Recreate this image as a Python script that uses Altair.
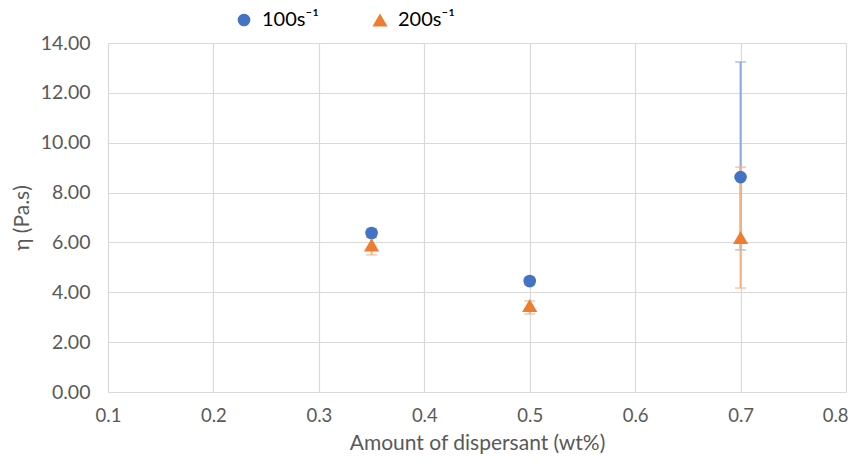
import altair as alt
import pandas as pd

# data
x_vals = [0.35, 0.5, 0.7]
series = ["100s\u207b\u00b9", "200s\u207b\u00b9"]
eta_100 = [6.38, 4.45, 8.62]
lo_100 = [6.2, 4.3, 5.70]
hi_100 = [6.55, 4.6, 13.24]
eta_200 = [5.9, 3.47, 6.2]
lo_200 = [5.5, 3.13, 4.17]
hi_200 = [6.25, 3.65, 9.02]

x_ticks = [0.1, 0.2, 0.3, 0.4, 0.5, 0.6, 0.7, 0.8]
y_ticks = [0, 2, 4, 6, 8, 10, 12, 14]

rows = []
for s, eta, lo, hi in [(series[0], eta_100, lo_100, hi_100), (series[1], eta_200, lo_200, hi_200)]:
    for x, e, l, h in zip(x_vals, eta, lo, hi):
        rows.append({"x": x, "series": s, "eta": e, "lo": l, "hi": h})
df = pd.DataFrame(rows)

FONT = "Lato"
TXT = "#595959"
main_colors = ["#4472C4", "#ED7D31"]
light_colors = ["#8FAADC", "#F4B183"]

xs = alt.Scale(domain=[0.1, 0.8], nice=False, zero=False)
ys = alt.Scale(domain=[0, 14], nice=False)

base = alt.Chart(df)

x_enc = alt.X("x:Q", scale=xs,
              axis=alt.Axis(values=x_ticks, format=".1f", title="Amount of dispersant (wt%)",
                            grid=True, domain=False, ticks=False, labelPadding=14,
                            labelFlush=False, labelBound=False, titlePadding=8,
                            labelFontSize=18.5, titleFontSize=21,
                            labelAlign={"condition": {"test": "datum.value >= 0.79", "value": "right"},
                                        "value": "center"},
                            labelOffset={"condition": {"test": "datum.value >= 0.79", "value": 2},
                                         "value": 0}))
y_enc = alt.Y("eta:Q", scale=ys,
              axis=alt.Axis(values=y_ticks, format=".2f", title="\u03b7 (Pa.s)",
                            grid=True, domain=False, ticks=False, labelPadding=18,
                            labelFlush=False, titlePadding=8, titleFontSize=21))

error_layers = []
for s, col in zip(series, light_colors):
    b = base.transform_filter(alt.datum.series == s)
    error_layers.append(b.mark_rule(strokeWidth=2, color=col).encode(
        x=alt.X("x:Q", scale=xs), y=alt.Y("lo:Q", scale=ys), y2="hi:Q"))
    error_layers.append(b.mark_tick(orient="horizontal", size=11, thickness=1.5, color=col).encode(
        x=alt.X("x:Q", scale=xs), y=alt.Y("hi:Q", scale=ys)))
    error_layers.append(b.mark_tick(orient="horizontal", size=11, thickness=1.5, color=col).encode(
        x=alt.X("x:Q", scale=xs), y=alt.Y("lo:Q", scale=ys)))

leg = alt.Legend(title=None, orient="none", direction="horizontal",
                 legendX=126, legendY=-33, labelFontSize=20,
                 labelColor="#000000", symbolSize=170, symbolOpacity=1,
                 columnPadding=50, labelOffset=8)

points = base.mark_point(filled=True, opacity=1).encode(
    x=x_enc, y=y_enc,
    color=alt.Color("series:N", scale=alt.Scale(domain=series, range=main_colors), legend=leg),
    shape=alt.Shape("series:N", scale=alt.Scale(domain=series, range=["circle", "triangle-up"]),
                    legend=leg),
    size=alt.Size("series:N", scale=alt.Scale(domain=series, range=[160, 230]), legend=None),
)

chart = alt.layer(*error_layers, points).properties(
    width=738, height=349,
    padding={"left": 100, "top": 35, "right": 3, "bottom": 64},
    autosize=alt.AutoSizeParams(type="none"),
).configure_view(stroke=None).configure_axis(
    gridColor="#D9D9D9", gridWidth=1.2, labelFont=FONT, titleFont=FONT,
    labelFontSize=19.5, titleFontSize=22, labelColor=TXT, titleColor=TXT,
    titleFontWeight="normal",
).configure_legend(labelFont=FONT)

chart.save("out.html", embed_options={"renderer": "svg", "actions": False})
